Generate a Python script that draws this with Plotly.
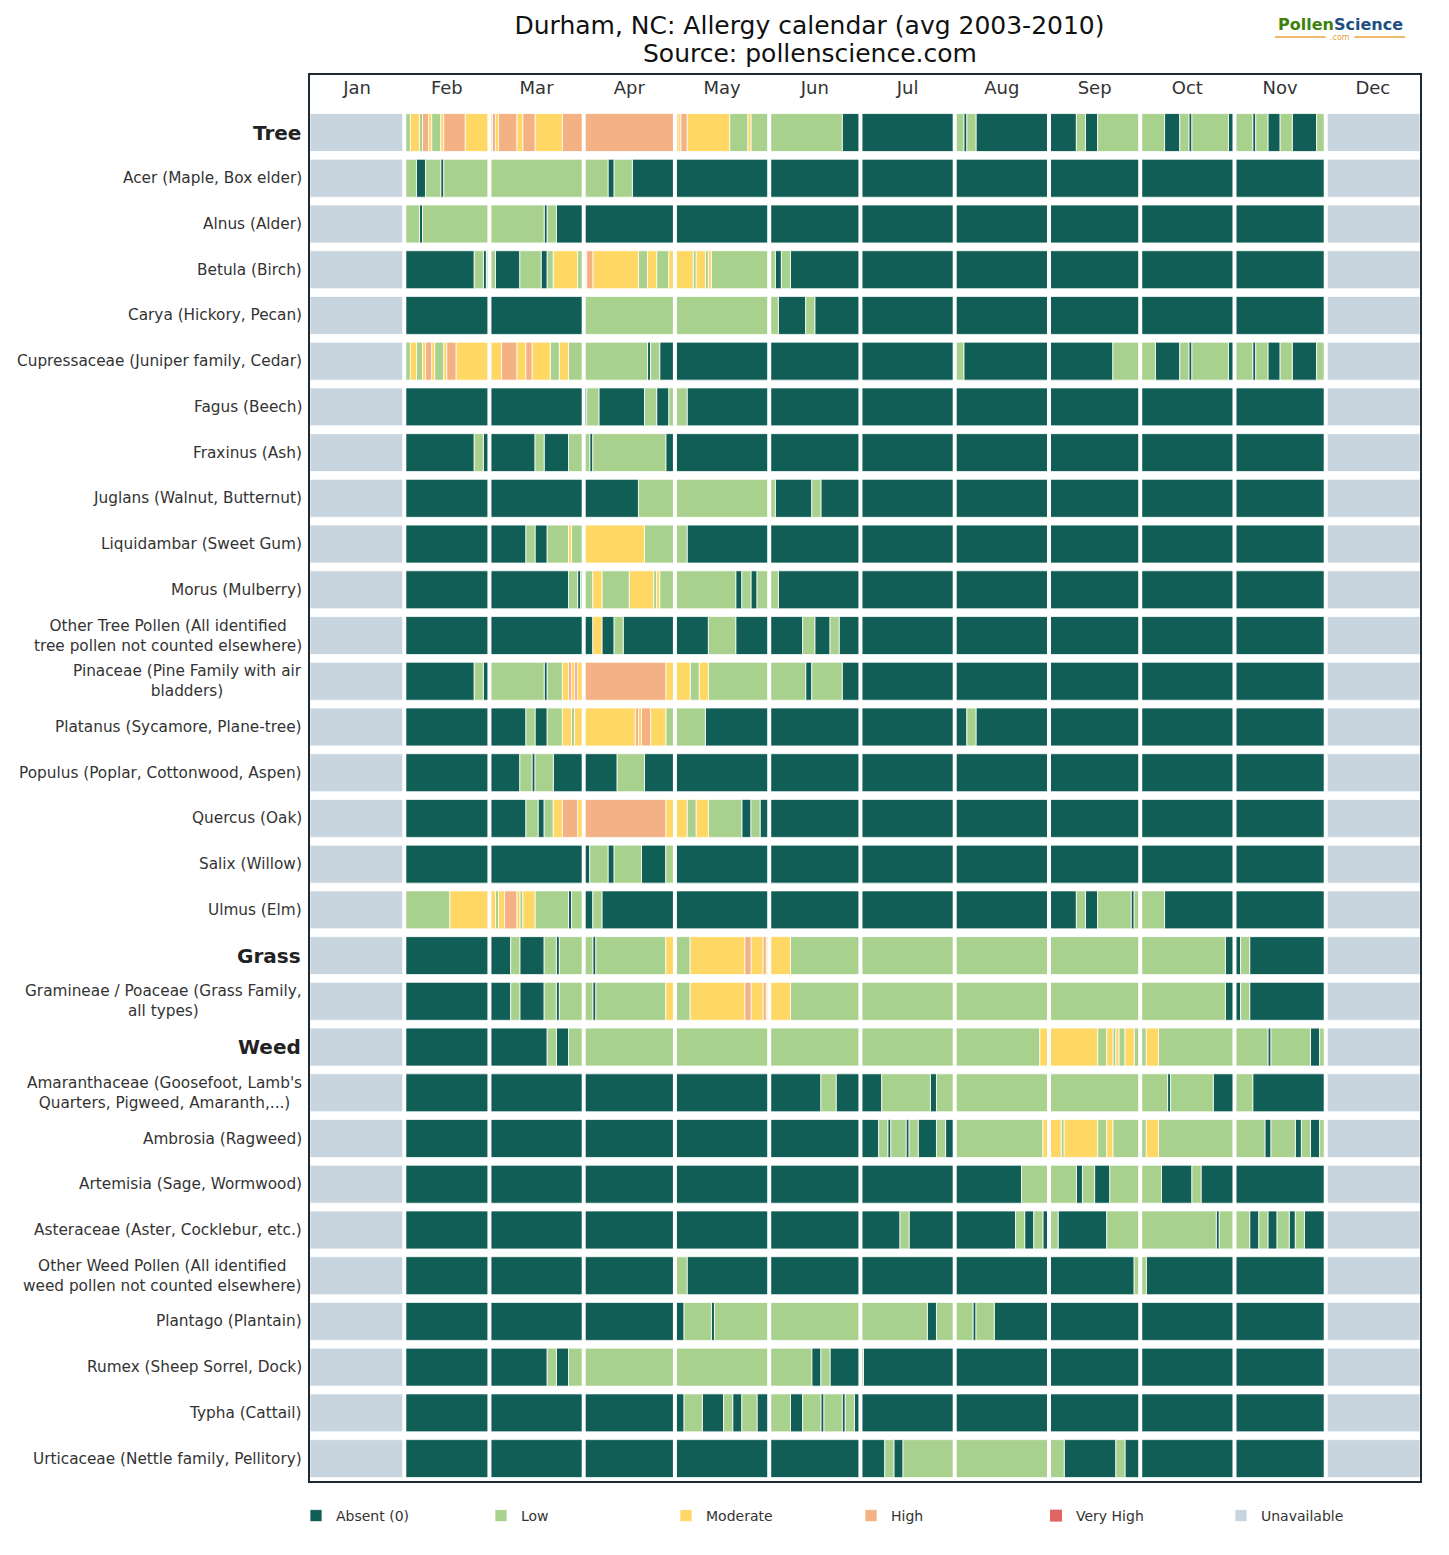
import plotly.graph_objects as go

# ---------------- data ----------------
MONTHS = ["Jan", "Feb", "Mar", "Apr", "May", "Jun", "Jul", "Aug", "Sep", "Oct", "Nov", "Dec"]
MONTH_DAYS = [31, 28, 31, 30, 31, 30, 31, 31, 30, 31, 30, 31]

LEVEL_NAMES = ["Absent (0)", "Low", "Moderate", "High", "Very High", "Unavailable"]
LEVEL_KEYS = ["A", "L", "M", "H", "V", "U"]
LEVEL_COLORS = ["#115e56", "#a9d18e", "#fed765", "#f4b183", "#e06666", "#c9d5de"]

GROUP_HEADERS = ["Tree", "Grass", "Weed"]

TITLE_LINE1 = "Durham, NC: Allergy calendar (avg 2003-2010)"
TITLE_LINE2 = "Source: pollenscience.com"

# run-length codes per month (Jan|Feb|...|Dec): level key + number of days
TREE_LABELS = [
    "Tree",
    "Acer (Maple, Box elder)",
    "Alnus (Alder)",
    "Betula (Birch)",
    "Carya (Hickory, Pecan)",
    "Cupressaceae (Juniper family, Cedar)",
    "Fagus (Beech)",
    "Fraxinus (Ash)",
    "Juglans (Walnut, Butternut)",
    "Liquidambar (Sweet Gum)",
    "Morus (Mulberry)",
    "Other Tree Pollen (All identified<br>tree pollen not counted elsewhere)",
    "Pinaceae (Pine Family with air<br>bladders)",
    "Platanus (Sycamore, Plane-tree)",
    "Populus (Poplar, Cottonwood, Aspen)",
    "Quercus (Oak)",
    "Salix (Willow)",
    "Ulmus (Elm)",
]
TREE_RUNS = [
    "U31|L2 M3 L1 H2 M1 L3 M1 H7 M8|M1 H1 M1 H6 M2 H4 M9 H7|H30|H1 M1 H2 M14 L6 M1 L6|L24 A6|A31|L3 A1 L3 A24|A9 L3 A4 L14|L8 A5 L3 A1 L12 A2|L6 A1 L4 A4 L4 A8 L3|U31",
    "U31|L4 A3 L5 A1 L15|L31|L8 A2 L6 A14|A31|A30|A31|A31|A30|A31|A30|U31",
    "U31|L5 A1 L22|L18 A1 L3 A9|A30|A31|A30|A31|A31|A30|A31|A30|U31",
    "U31|A23 L3 A1 L1|L2 A8 L7 A2 L2 M8 L2|M1 H2 M15 L3 M3 L4 M2|M6 L1 M3 L1 M1 L19|L2 A2 L3 A23|A31|A31|A30|A31|A30|U31",
    "U31|A28|A31|L30|L31|L3 A9 L3 A15|A31|A31|A30|A31|A30|U31",
    "U31|L2 M2 L2 M1 H2 M1 L3 M1 H3 M11|M4 H5 M3 H2 M6 L3 M3 L5|L21 A1 L3 A5|A31|A30|A31|L3 A28|A21 L9|L5 A8 L3 A1 L12 A2|L6 A1 L4 A4 L4 A8 L3|U31",
    "U31|A28|A31|A1 L4 A15 L4 A4 L2|L4 A27|A30|A31|A31|A30|A31|A30|U31",
    "U31|A23 L3 A2|A15 L3 A8 L5|L2 A1 L24 A3|A31|A30|A31|A31|A30|A31|A30|U31",
    "U31|A28|A31|A18 L12|L31|L2 A12 L3 A13|A31|A31|A30|A31|A30|U31",
    "U31|A28|A12 L3 A4 L7 M1 L4|M20 L10|L4 A27|A30|A31|A31|A30|A31|A30|U31",
    "U31|A28|A26 L3 A1 L1|L3 M3 L9 M8 L1 M1 L5|L20 A2 L3 A2 L4|L3 A27|A31|A31|A30|A31|A30|U31",
    "U31|A28|A31|A3 M3 A4 L3 A17|A11 L9 A11|A11 L4 A5 L3 A7|A31|A31|A30|A31|A30|U31",
    "U31|A23 L3 A2|L18 A1 L5 M2 H1 M1 H1 M2|H27 M3|M5 L3 M3 L20|L12 A2 L10 A6|A31|A31|A30|A31|A30|U31",
    "U31|A28|A12 L3 A4 L5 M3 L1 M3|M17 H1 M1 H3 M5 L3|L10 A21|A30|A31|A4 L3 A24|A30|A31|A30|U31",
    "U31|A28|A10 L4 A1 L6 A10|A11 L9 A10|A31|A30|A31|A31|A30|A31|A30|U31",
    "U31|A28|A12 L4 A2 L3 M3 H5 M2|H27 M3|M4 L3 M4 L11 A3 L3 A3|A30|A31|A31|A30|A31|A30|U31",
    "U31|A28|A31|A2 L6 A2 L9 A8 L3|A31|A30|A31|A31|A30|A31|A30|U31",
    "U31|L15 M13|M2 L1 M2 H4 M1 L1 M4 L11 A1 L4|A3 L3 A24|A31|A30|A31|A31|A9 L3 A4 L11 A1 L2|L8 A23|A30|U31",
]

GRASS_LABELS = [
    "Grass",
    "Gramineae / Poaceae (Grass Family,<br>all types)",
]
GRASS_RUNS = [
    "U31|A28|A7 L3 A8 L4 A1 L8|L3 A1 L23 M3|L5 M18 H2 M4 H1 M1|M7 L23|L31|L31|L30|L28 A3|A2 L3 A25|U31",
    "U31|A28|A7 L3 A8 L4 A1 L8|L3 A1 L23 M3|L5 M18 H2 M4 H1 M1|M7 L23|L31|L31|L30|L28 A3|A2 L3 A25|U31",
]

WEED_LABELS = [
    "Weed",
    "Amaranthaceae (Goosefoot, Lamb's<br>Quarters, Pigweed, Amaranth,...)",
    "Ambrosia (Ragweed)",
    "Artemisia (Sage, Wormwood)",
    "Asteraceae (Aster, Cocklebur, etc.)",
    "Other Weed Pollen (All identified<br>weed pollen not counted elsewhere)",
    "Plantago (Plantain)",
    "Rumex (Sheep Sorrel, Dock)",
    "Typha (Cattail)",
    "Urticaceae (Nettle family, Pellitory)",
]
WEED_RUNS = [
    "U31|A28|A19 L3 A4 L5|L30|L31|L30|L31|L28 M3|M16 L3 M2 L1 M1 L2 M3 L2|L2 M4 L25|L11 A1 L13 A3 L2|U31",
    "U31|A28|A31|A30|A31|A17 L5 A8|A7 L16 A2 L6|L31|L30|L9 A1 L14 A7|L6 A24|U31",
    "U31|A28|A31|A30|A31|A30|A6 L3 A1 L5 A1 L3 A6 L3 A3|L29 M2|M4 L1 M11 L3 M2 L9|L2 M4 L25|L10 A2 L8 A2 L3 A3 L2|U31",
    "U31|A28|A31|A30|A31|A30|A31|A22 L9|L9 A2 L4 A5 L10|L7 A10 L3 A11|A30|U31",
    "U31|A28|A31|A30|A31|A30|A13 L3 A15|A20 L3 A3 L3 A2|L3 A16 L11|L25 A1 L5|L5 A3 L3 A3 L4 A2 L3 A7|U31",
    "U31|A28|A31|A30|L4 A27|A30|A31|A31|A28 L2|L2 A29|A30|U31",
    "U31|A28|A31|A30|A3 L9 A1 L18|L30|L22 A3 L6|L6 A1 L6 A18|A30|A31|A30|U31",
    "U31|A28|A19 L3 A4 L5|L30|L31|L14 A3 L3 A10|L1 A30|A31|A30|A31|A30|U31",
    "U31|A28|A31|A30|A3 L6 A7 L3 A3 L5 A4|L7 A4 L6 A1 L6 A1 L3 A2|A31|A31|A30|A31|A30|U31",
    "U31|A28|A31|A30|A31|A30|A8 L3 A3 L17|L31|L5 A17 L3 A5|A31|A30|U31",
]

# ---------------- build ----------------
labels = TREE_LABELS + GRASS_LABELS + WEED_LABELS
runs = TREE_RUNS + GRASS_RUNS + WEED_RUNS
n_rows = len(labels)

month_start = [0]
for d in MONTH_DAYS[:-1]:
    month_start.append(month_start[-1] + d)
year_len = sum(MONTH_DAYS)

segs = {k: {"base": [], "len": [], "y": []} for k in range(len(LEVEL_KEYS))}
for r, run in enumerate(runs):
    for m, chunk in enumerate(run.split("|")):
        pos = month_start[m]
        for tok in chunk.split():
            lvl = LEVEL_KEYS.index(tok[0])
            n = int(tok[1:])
            segs[lvl]["base"].append(pos)
            segs[lvl]["len"].append(n)
            segs[lvl]["y"].append(r)
            pos += n

FONT = "DejaVu Sans"
fig = go.Figure()
for k, name in enumerate(LEVEL_NAMES):
    s = segs[k]
    has = len(s["len"]) > 0
    fig.add_trace(go.Bar(
        orientation="h",
        base=s["base"] if has else [None],
        x=s["len"] if has else [None],
        y=s["y"] if has else [None],
        width=0.83,
        name=name,
        marker=dict(color=LEVEL_COLORS[k],
                    line=dict(color="rgba(255,255,255,0.75)", width=1 if has else 0)),
        hoverinfo="skip",
    ))

shapes = []
for b in month_start[1:]:
    shapes.append(dict(type="line", xref="x", yref="y", x0=b, x1=b,
                       y0=-0.43, y1=n_rows - 1 + 0.43,
                       line=dict(color="white", width=4), layer="above"))

# logo decoration
lx0 = (1275 - 310) / 1110
lx1 = (1405 - 310) / 1110
lxm = (1340 - 310) / 1110
ly = 1 + (75 - 37) / 1406
shapes.append(dict(type="line", xref="paper", yref="paper", x0=lx0, x1=lxm - 0.013,
                   y0=ly, y1=ly, line=dict(color="#e8a33a", width=1.5)))
shapes.append(dict(type="line", xref="paper", yref="paper", x0=lxm + 0.013, x1=lx1,
                   y0=ly, y1=ly, line=dict(color="#e8a33a", width=1.5)))

annotations = []
for i, lab in enumerate(labels):
    if lab in GROUP_HEADERS:
        annotations.append(dict(xref="paper", yref="y", x=0, y=i, xanchor="right",
                                xshift=-7, text="<b>" + lab + "</b>", showarrow=False,
                                font=dict(family=FONT, size=20, color="#222222")))
    else:
        annotations.append(dict(xref="paper", yref="y", x=0, y=i, xanchor="right",
                                xshift=-6, text=lab, showarrow=False, align="center",
                                font=dict(family=FONT, size=15.3, color="#333333")))

# second title line
annotations.append(dict(xref="paper", yref="paper", x=(809.5 - 310) / 1110,
                        y=1 + (75 - 53) / 1406, xanchor="center", yanchor="middle",
                        showarrow=False, text=TITLE_LINE2,
                        font=dict(family=FONT, size=25, color="#111111")))

annotations.append(dict(xref="paper", yref="paper", x=lxm, y=1 + (75 - 25) / 1406,
                        xanchor="center", yanchor="middle", showarrow=False,
                        text="<b><span style='color:#3f7f0c'>Pollen</span><span style='color:#1d4f82'>Science</span></b>",
                        font=dict(family=FONT, size=16)))
annotations.append(dict(xref="paper", yref="paper", x=lxm, y=ly,
                        xanchor="center", yanchor="middle", showarrow=False,
                        text=".com", font=dict(family=FONT, size=8, color="#e8a33a")))

fig.update_layout(
    width=1449, height=1555,
    margin=dict(l=310, r=29, t=75, b=74),
    paper_bgcolor="white", plot_bgcolor="white",
    font=dict(family=FONT, color="#333333"),
    barmode="overlay",
    title=dict(text=TITLE_LINE1,
               x=809.5 / 1449, xanchor="center", xref="container",
               y=1 - 25 / 1555, yanchor="middle", yref="container",
               font=dict(family=FONT, size=25, color="#111111")),
    xaxis=dict(range=[0, year_len], side="top",
               tickvals=[month_start[i] + MONTH_DAYS[i] / 2 for i in range(12)],
               ticktext=MONTHS, ticks="", ticklabelposition="inside",
               ticklabelstandoff=7,
               tickfont=dict(family=FONT, size=18, color="#333333"),
               showline=True, mirror=True, linecolor="#1e2a33", linewidth=2,
               showgrid=False, zeroline=False, fixedrange=True),
    yaxis=dict(range=[29.49, -1.258], showticklabels=False, ticks="",
               showline=True, mirror=True, linecolor="#1e2a33", linewidth=2,
               showgrid=False, zeroline=False, fixedrange=True),
    legend=dict(orientation="h", x=(296 - 310) / 1110, xanchor="left",
                y=-(1516 - 1481) / 1406, yanchor="middle",
                entrywidth=140, entrywidthmode="pixels", traceorder="normal",
                font=dict(family=FONT, size=14, color="#333333")),
    shapes=shapes,
    annotations=annotations,
)

fig.write_html("out.html")
